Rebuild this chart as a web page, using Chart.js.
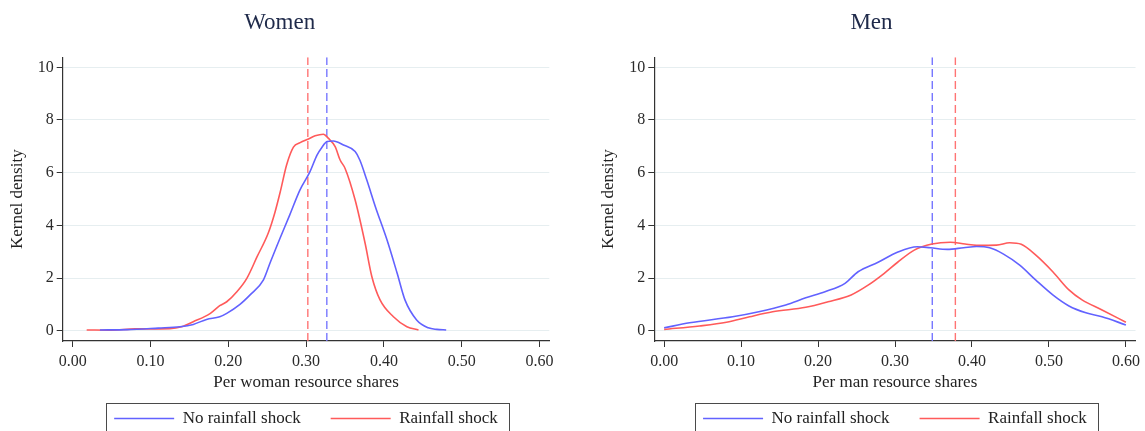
<!DOCTYPE html>
<html><head><meta charset="utf-8">
<script src="https://cdn.jsdelivr.net/npm/chart.js@4.4.1/dist/chart.umd.min.js"></script>
<style>
html,body{margin:0;padding:0;background:#fff;width:1145px;height:431px;overflow:hidden;position:relative}
canvas{position:absolute;top:0}
</style></head><body>
<canvas id="women" width="560" height="437" style="left:0px"></canvas>
<canvas id="men" width="547" height="437" style="left:598px"></canvas>
<script>
// ---- data ----
const panelTitles = ["Women", "Men"];
const xAxisTitles = ["Per woman resource shares", "Per man resource shares"];
const seriesNames = ["No rainfall shock", "Rainfall shock"];
const xTicks = [0, 0.1, 0.2, 0.3, 0.4, 0.5, 0.6];
const yTicks = [0, 2, 4, 6, 8, 10];

const womenNoShockX = [0.035,0.070,0.110,0.138,0.155,0.172,0.189,0.198,0.215,0.228,0.245,0.254,0.262,0.267,0.279,0.292,0.305,0.314,0.320,0.327,0.335,0.348,0.363,0.369,0.378,0.389,0.404,0.417,0.427,0.442,0.457,0.468,0.480];
const womenNoShockY = [0.03,0.04,0.10,0.15,0.24,0.43,0.53,0.66,1.00,1.36,1.92,2.60,3.19,3.55,4.40,5.34,6.04,6.67,6.95,7.18,7.20,7.05,6.80,6.48,5.72,4.71,3.44,2.18,1.17,0.41,0.11,0.05,0.03];
const womenShockX = [0.018,0.050,0.080,0.125,0.140,0.155,0.177,0.189,0.198,0.211,0.224,0.237,0.2515,0.260,0.267,0.275,0.2837,0.2923,0.303,0.3116,0.3222,0.3287,0.3373,0.3437,0.3501,0.363,0.3758,0.3845,0.395,0.4122,0.4295,0.4444];
const womenShockY = [0.03,0.02,0.07,0.08,0.15,0.34,0.66,0.95,1.10,1.48,2.00,2.81,3.72,4.50,5.30,6.30,6.97,7.14,7.28,7.40,7.46,7.30,6.99,6.48,6.16,4.96,3.32,2.05,1.17,0.53,0.15,0.03];

const menNoShockX = [0.000,0.033,0.089,0.123,0.158,0.184,0.209,0.235,0.252,0.278,0.303,0.329,0.346,0.368,0.389,0.406,0.423,0.441,0.462,0.483,0.505,0.526,0.548,0.569,0.600];
const menNoShockY = [0.11,0.30,0.53,0.72,0.98,1.25,1.48,1.80,2.24,2.60,2.98,3.19,3.15,3.09,3.15,3.20,3.15,2.91,2.49,1.92,1.36,0.94,0.68,0.53,0.22];
const menShockX = [0.000,0.046,0.081,0.111,0.141,0.184,0.213,0.243,0.265,0.286,0.303,0.325,0.348,0.372,0.391,0.406,0.432,0.449,0.464,0.483,0.505,0.526,0.543,0.569,0.600];
const menShockY = [0.05,0.18,0.32,0.53,0.72,0.89,1.10,1.36,1.73,2.18,2.59,3.06,3.29,3.36,3.29,3.24,3.25,3.34,3.28,2.87,2.24,1.55,1.17,0.79,0.32];

// means (vertical dashed lines): [no shock, shock]
const womenMeans = [0.3266, 0.3022];
const menMeans = [0.3484, 0.3784];

// ---- styling ----
const FONT = "'Liberation Serif', 'Times New Roman', serif";
const BLUE = '#6262ff', RED = '#ff5a5a';
const BLUE_D = '#7878ff', RED_D = '#ff7474';
const Y_MIN = -0.39, Y_MAX = 10.38, X_MIN = -0.0128, X_MAX = 0.6125;

const pts = (xs, ys) => xs.map((x, i) => ({x: x, y: ys[i]}));
const vline = m => [{x: m, y: Y_MIN}, {x: m, y: Y_MAX}];

const legendBorder = {
  id: 'legendBorder',
  afterDraw(chart) {
    const lg = chart.legend;
    if (!lg || !lg.legendHitBoxes || !lg.legendHitBoxes.length) return;
    const hb = lg.legendHitBoxes, f = hb[0], l = hb[hb.length - 1];
    const ctx = chart.ctx;
    ctx.save();
    ctx.strokeStyle = '#4a4a4a';
    ctx.lineWidth = 1;
    const left = Math.round(f.left - 8) + 0.5, right = Math.round(l.left + l.width + 11) + 0.5;
    const top = Math.round(f.top - 7) + 0.5, bottom = Math.round(f.top + f.height + 7) + 0.5;
    ctx.strokeRect(left, top, right - left, bottom - top);
    ctx.restore();
  }
};

function makeChart(id, idx, noX, noY, shX, shY, means, pad, yAxisW, yTitlePad) {
  return new Chart(document.getElementById(id), {
    type: 'line',
    data: {
      datasets: [
        {label: seriesNames[0], data: pts(noX, noY), borderColor: BLUE, backgroundColor: BLUE, borderWidth: 1.6, pointRadius: 0, cubicInterpolationMode: 'monotone', fill: false},
        {label: seriesNames[1], data: pts(shX, shY), borderColor: RED, backgroundColor: RED, borderWidth: 1.6, pointRadius: 0, cubicInterpolationMode: 'monotone', fill: false},
        {label: 'mean0', data: vline(means[0]), borderColor: BLUE_D, borderWidth: 1.4, borderDash: [8, 4], pointRadius: 0, fill: false},
        {label: 'mean1', data: vline(means[1]), borderColor: RED_D, borderWidth: 1.4, borderDash: [8, 4], pointRadius: 0, fill: false}
      ]
    },
    options: {
      responsive: false,
      animation: false,
      events: [],
      layout: {padding: {left: pad[0], right: pad[1], top: 0, bottom: 0}},
      plugins: {
        title: {display: true, text: panelTitles[idx], color: '#1f2a4a', font: {family: FONT, size: 23, weight: 'normal'}, padding: {top: 9.1, bottom: 20.6}},
        legend: {
          position: 'bottom', fullSize: false, align: 'center',
          labels: {
            usePointStyle: true, pointStyle: 'line', pointStyleWidth: 60, padding: 30,
            color: '#222', font: {family: FONT, size: 17},
            filter: item => item.datasetIndex < 2
          }
        },
        tooltip: {enabled: false}
      },
      scales: {
        x: {
          type: 'linear', min: X_MIN, max: X_MAX,
          afterBuildTicks: s => { s.ticks = xTicks.map(v => ({value: v})); },
          afterFit: s => { s.height = 39; },
          ticks: {callback: v => Number(v).toFixed(2), color: '#2a2a2a', font: {family: FONT, size: 16}, padding: 5, maxRotation: 0, autoSkip: false},
          grid: {drawOnChartArea: false, drawTicks: true, tickLength: 6, tickColor: '#333', tickWidth: 1},
          border: {display: true, color: '#333', width: 1.2},
          title: {display: true, text: xAxisTitles[idx], color: '#222', font: {family: FONT, size: 17}, padding: {top: 0, bottom: -12.5}}
        },
        y: {
          type: 'linear', min: Y_MIN, max: Y_MAX,
          afterBuildTicks: s => { s.ticks = yTicks.map(v => ({value: v})); },
          afterFit: s => { s.width = yAxisW; },
          ticks: {color: '#2a2a2a', font: {family: FONT, size: 16}, padding: 3},
          grid: {color: '#e6eef0', lineWidth: 1, drawTicks: true, tickLength: 6, tickColor: '#333', tickWidth: 1},
          border: {display: true, color: '#333', width: 1.2},
          title: {display: true, text: 'Kernel density', color: '#222', font: {family: FONT, size: 17}, padding: {top: yTitlePad, bottom: 0}}
        }
      }
    },
    plugins: [legendBorder]
  });
}

makeChart('women', 0, womenNoShockX, womenNoShockY, womenShockX, womenShockY, womenMeans, [10.1, 10.7], 52.6, -2.3);
makeChart('men', 1, menNoShockX, menNoShockY, menShockX, menShockY, menMeans, [5, 5], 51.3, -4.6);
</script>
</body></html>
